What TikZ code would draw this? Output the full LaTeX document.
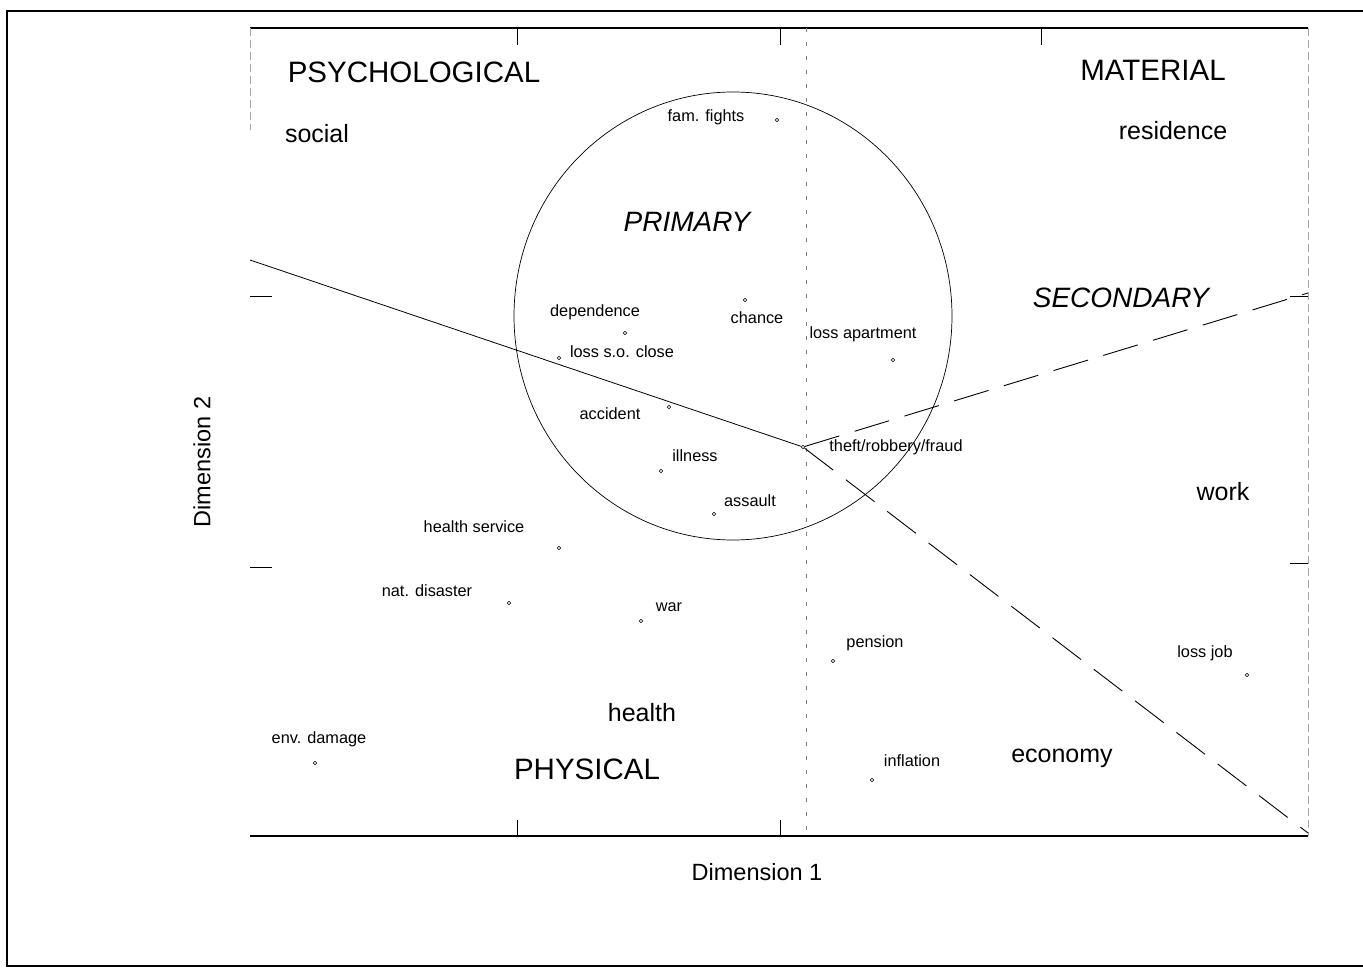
\documentclass[tikz,border=0pt]{standalone}
\usepackage{fontspec}
\setmainfont{Liberation Sans}
\tikzset{
  pt/.style={circle,draw,line width=0.5pt,inner sep=0pt,minimum size=3.5pt},
  lab/.style={inner sep=0pt,font=\fontsize{16.3}{18}\selectfont},
  big/.style={inner sep=0pt,font=\fontsize{29.5}{32}\selectfont},
  mid/.style={inner sep=0pt,font=\fontsize{25}{28}\selectfont},
  ital/.style={inner sep=0pt,font=\fontsize{28}{30}\selectfont\itshape},
  axlab/.style={inner sep=0pt,font=\fontsize{23.5}{26}\selectfont},
  frameline/.style={line width=2pt},
  axisline/.style={line width=1.4pt},
  tick/.style={line width=1pt},
  faint/.style={line width=0.7pt,gray,dash pattern=on 4pt off 10pt},
  border/.style={line width=0.8pt,gray!70,dash pattern=on 8pt off 4pt},
  sep/.style={line width=0.8pt},
  longdash/.style={line width=0.9pt,dash pattern=on 36pt off 16pt},
}
\begin{document}
\begin{tikzpicture}[x=1pt,y=-1pt]
\useasboundingbox (0,0) rectangle (1363,968);
% outer frame
\draw[frameline] (1366,11) -- (7,11) -- (7,966) -- (1366,966);
% plot box
\draw[axisline] (250,28) -- (1308,28);
\draw[axisline] (250,836) -- (1308,836);
\draw[border] (250,28) -- (250,130);
\draw[border] (1308,28) -- (1308,836);
% ticks
\foreach \x in {517,780,1041} \draw[tick] (\x,28) -- (\x,45);
\foreach \x in {517,780} \draw[tick] (\x,836) -- (\x,820);
\foreach \y in {297,567} \draw[tick] (250,\y) -- (272,\y);
\foreach \y in {297,563} \draw[tick] (1308,\y) -- (1290,\y);
% vertical centre line
\draw[faint] (806,28) -- (806,836);
% circle
\draw[line width=0.7pt] (733,316) ellipse [x radius=219, y radius=224];
% points
\node[pt] (famf) at (777,120) {};
\node[pt] (chan) at (745,300) {};
\node[pt] (depe) at (625,333) {};
\node[pt] (loso) at (559,358) {};
\node[pt] (loap) at (893,360) {};
\node[pt] (acci) at (669,407) {};
\node[pt] (thef) at (803,447) {};
\node[pt] (illn) at (661,471) {};
\node[pt] (assa) at (714,514) {};
\node[pt] (hser) at (559,548) {};
\node[pt] (natd) at (509,603) {};
\node[pt] (war)  at (641,621) {};
\node[pt] (pens) at (833,661) {};
\node[pt] (lojo) at (1247,675) {};
\node[pt] (envd) at (315,763) {};
\node[pt] (infl) at (872,780) {};
% point labels
\node[lab] (lfamf) at (706,117) {fam. fights};
\node[lab] (lchan) at (757,318) {chance};
\node[lab] (ldepe) at (595,312) {dependence};
\node[lab] (lloso) at (622,352) {loss s.o. close};
\node[lab] (lloap) at (863,334) {loss apartment};
\node[lab] (lacci) at (610,414) {accident};
\node[lab] (lthef) at (896,447) {theft/robbery/fraud};
\node[lab] (lilln) at (695,456) {illness};
\node[lab] (lassa) at (750,501) {assault};
\node[lab] (lhser) at (474,527) {health service};
\node[lab] (lnatd) at (427,591) {nat. disaster};
\node[lab] (lwar)  at (669,607) {war};
\node[lab] (lpens) at (875,643) {pension};
\node[lab] (llojo) at (1205,653) {loss job};
\node[lab] (lenvd) at (319,739) {env. damage};
\node[lab] (linfl) at (912,761) {inflation};
% region labels
\node[big] (psy) at (414,72) {PSYCHOLOGICAL};
\node[big] (mat) at (1153,70) {MATERIAL};
\node[big] (phy) at (587,769) {PHYSICAL};
\node[mid] (soc) at (317,134) {social};
\node[mid] (res) at (1173,131) {residence};
\node[mid] (wor) at (1223,492) {work};
\node[mid] (hea) at (642,713) {health};
\node[mid] (eco) at (1062,758) {economy};
\node[ital] (pri) at (687,222) {PRIMARY};
\node[ital] (sec) at (1121,298) {SECONDARY};
% axis labels
\node[axlab] (d1) at (757,872) {Dimension 1};
\node[axlab,rotate=90] (d2) at (202,462) {Dimension 2};
% separating lines
\coordinate (lend) at (250,260);
\coordinate (uend) at (1308,293);
\coordinate (dend) at (1308,833);
\draw[sep] (lend) -- (thef);
\draw[longdash] (thef) -- (uend);
\draw[longdash] (thef) -- (dend);
\end{tikzpicture}
\end{document}
